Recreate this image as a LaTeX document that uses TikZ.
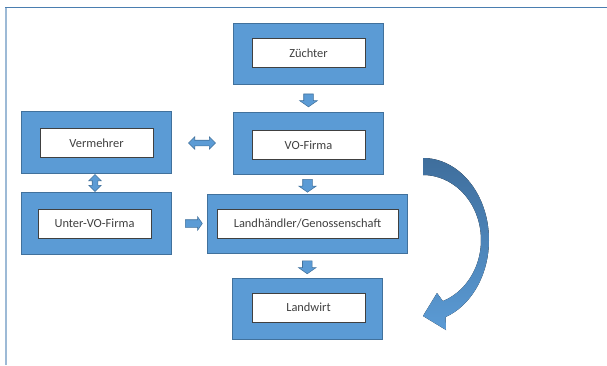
\documentclass[tikz,border=0pt]{standalone}
\usepackage{fontspec}
\setmainfont{Carlito}
\usetikzlibrary{shapes.arrows,calc}
\definecolor{boxblue}{HTML}{5B9BD5}
\definecolor{boxedge}{HTML}{41719C}
\definecolor{darkblue}{HTML}{3F6E9C}
\definecolor{textgray}{HTML}{404040}
\definecolor{frameblue}{HTML}{4A7EB0}
\definecolor{framelight}{HTML}{9DBAD6}

\begin{document}
\begin{tikzpicture}
[x=0.75pt,y=-0.75pt,
 bluebox/.style={draw=boxedge,fill=boxblue,rectangle,line width=0.6pt,inner sep=0pt,
   minimum width=112.5pt,minimum height=46pt},
 txtbox/.style={draw=textgray,fill=white,rectangle,line width=0.6pt,inner sep=0pt,
   minimum width=84.75pt,minimum height=21.75pt,text=textgray,font=\fontsize{9.3}{11}\selectfont},
 darrow/.style={draw=boxedge,fill=boxblue,line width=0.4pt,single arrow,inner sep=3.375pt,
   single arrow head extend=3pt,single arrow tip angle=110,
   minimum height=9pt,shape border rotate=270},
 rarrow/.style={darrow,shape border rotate=0,inner sep=2.625pt,minimum height=12.75pt,
   single arrow head extend=2.25pt},
 twoway/.style={draw=boxedge,fill=boxblue,line width=0.4pt,double arrow,inner sep=1.875pt,
   double arrow head extend=2.6pt,double arrow tip angle=90}]
\useasboundingbox (0,0) rectangle (607,365);

% frame
\draw[framelight,line width=1.9pt] (6,7) -- (6,365);
\draw[frameblue,line width=1.1pt] (5,7.5) -- (607,7.5);

% middle column
\node (zuo) at (308,54) [bluebox] {};
\node (zu) at (308.5,53) [txtbox] {Züchter};

\node (voo) at (308,143.5) [bluebox] {};
\node (vo) at (308.5,145) [txtbox] {VO-Firma};

\node (lho) at (307,223.5) [bluebox,minimum width=150pt,minimum height=44.25pt] {};
\node (lh) at (307.5,223.5) [txtbox,minimum width=135.75pt] {Landhändler/Genossenschaft};

\node (lwo) at (307.5,309) [bluebox] {};
\node (lw) at (308.5,307.5) [txtbox] {Landwirt};

% left column
\node (vmo) at (96,142.5) [bluebox] {};
\node (vm) at (96.5,143) [txtbox] {Vermehrer};

\node (uvoo) at (96,223.5) [bluebox] {};
\node (uvo) at (94.5,223.5) [txtbox] {Unter-VO-Firma};

% block arrows
\node (a1) at ($(zuo.south)!0.5!(voo.north)+(0.5,0)$) [darrow] {};
\node (a2) at ($(voo.south)!0.5!(lho.north)$) [darrow] {};
\node (a3) at ($(lho.south)!0.5!(lwo.north)$) [darrow] {};
\node (a4) at ($(uvoo.east)!0.6!(lho.west)$) [rarrow] {};
\node (a5) at ($(vmo.east)!0.5!(voo.west)$) [twoway,minimum height=20.25pt] {};
\node (a6) at ($(vmo.south)!0.5!(uvoo.north)+(-1,0)$) [twoway,shape border rotate=90,minimum height=12.75pt] {};

% curved arrow
\fill[top color=darkblue,bottom color=boxblue]
  plot[domain=90:-70,samples=40,variable=\t] ({423+66*cos(\t)},{240-82*sin(\t)})
  -- (446,330) -- (423,316) -- (437,293)
  -- plot[domain=-70:90,samples=40,variable=\t] ({423+58*cos(\t)},{240-65*sin(\t)})
  -- cycle;
\end{tikzpicture}
\end{document}
